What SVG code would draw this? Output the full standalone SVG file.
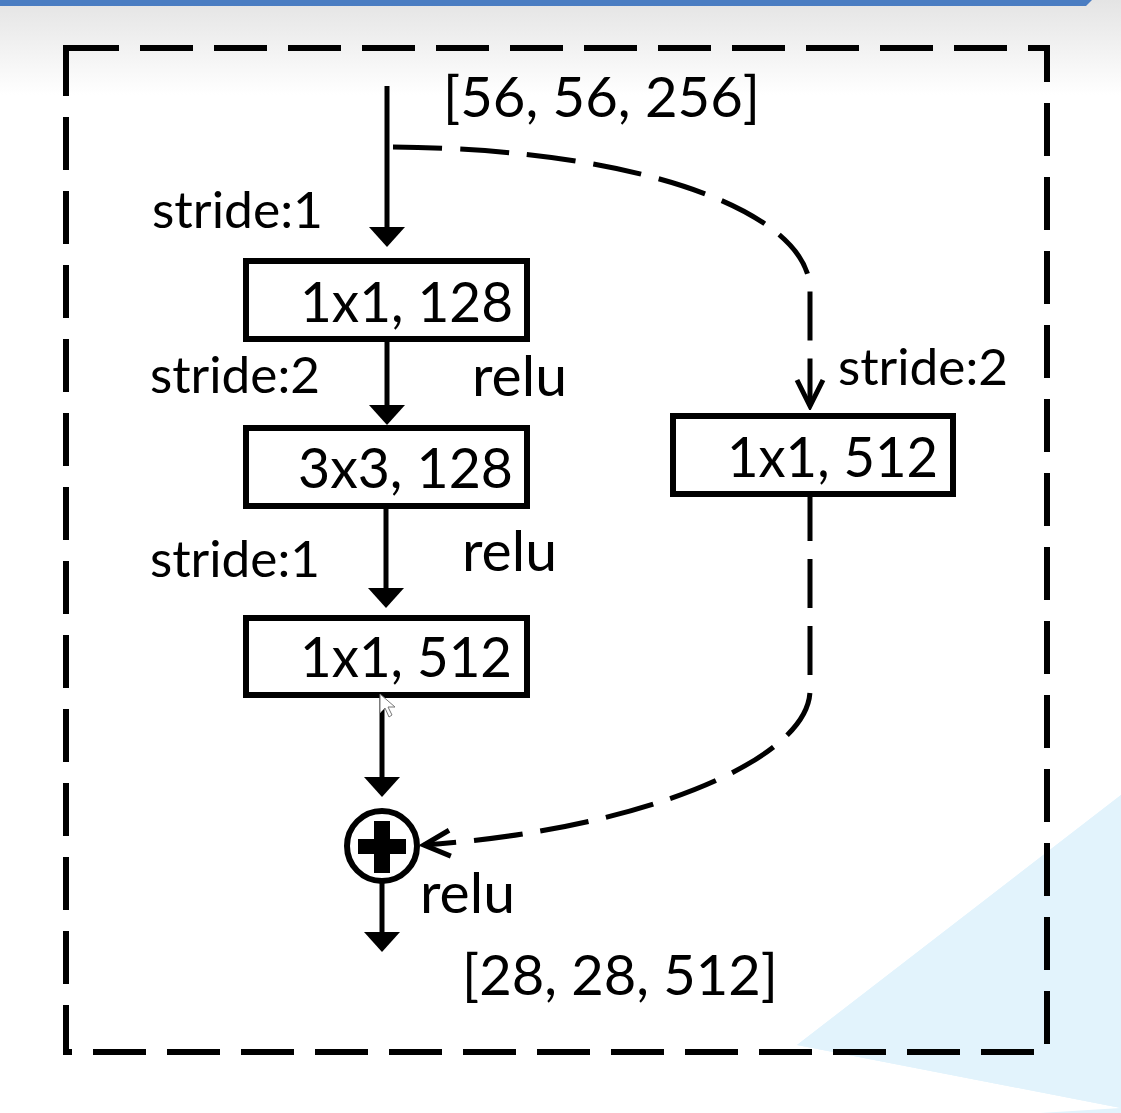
<svg xmlns="http://www.w3.org/2000/svg" width="1121" height="1113" viewBox="0 0 1121 1113">
  <defs>
    <linearGradient id="topfade" x1="0" y1="0" x2="0" y2="1">
      <stop offset="0" stop-color="#e4e4e4"/>
      <stop offset="1" stop-color="#ffffff"/>
    </linearGradient>
    <marker id="solidHead" markerUnits="userSpaceOnUse" viewBox="0 0 20 36" refX="16" refY="18" markerWidth="20" markerHeight="36" orient="auto">
      <path d="M0,0 L20,18 L0,36 Z" fill="#000"/>
    </marker>
    <marker id="openHead" markerUnits="userSpaceOnUse" viewBox="-30 -16 34 32" refX="0" refY="0" markerWidth="34" markerHeight="32" orient="auto">
      <path d="M-26,-13 L0,0 L-26,13" fill="none" stroke="#000" stroke-width="5" stroke-linejoin="miter"/>
    </marker>
    <style>
      .box { fill: #fff; stroke: #000; stroke-width: 6; }
      .lbl { font-family: Lato, "Open Sans", "Liberation Sans", sans-serif; fill: #000; }
      .big { font-size: 56px; }
      .stride { font-size: 50px; }
      .relu { font-size: 57px; }
      .solid { fill: none; stroke: #000; stroke-width: 5; marker-end: url(#solidHead); }
      .dash { fill: none; stroke: #000; stroke-width: 5; stroke-dasharray: 49 18; marker-end: url(#openHead); }
    </style>
  </defs>

  <!-- background -->
  <rect x="0" y="0" width="1121" height="1113" fill="#fff"/>
  <rect x="0" y="0" width="1121" height="95" fill="url(#topfade)"/>
  <polygon points="797,1045 1121,795 1121,1113 1040,1113 1121,1108" fill="#e2f3fc"/>
  <polygon points="797,1045 1121,1108 1121,795" fill="#e2f3fc"/>
  <polygon points="0,0 1092,0 1086,6 0,6" fill="#4a7dc2"/>

  <!-- outer dashed frame -->
  <path id="frame" d="M66,48 H1047 V1052 H66 Z" fill="none" stroke="#000" stroke-width="6" stroke-dasharray="53 21"/>

  <!-- connectors -->
  <g id="connectors">
    <path class="solid" d="M387,86 V243"/>
    <path class="solid" d="M387,342 V421"/>
    <path class="solid" d="M386,508 V604"/>
    <path class="solid" d="M382,697 V793"/>
    <path class="solid" d="M382,883 V948"/>
    <path class="dash" d="M393,147 C650,149 810,215 810,290 L810,406"/>
    <path class="dash" d="M810,492 L810,690 C810,760 640,830 424,845"/>
  </g>

  <!-- nodes -->
  <g id="node-conv1">
    <rect class="box" x="246" y="261" width="281" height="78"/>
    <text class="lbl big" x="300" y="322" textLength="213" lengthAdjust="spacingAndGlyphs">1x1, 128</text>
  </g>
  <g id="node-conv2">
    <rect class="box" x="246" y="428" width="281" height="78"/>
    <text class="lbl big" x="298" y="488" textLength="215" lengthAdjust="spacingAndGlyphs">3x3, 128</text>
  </g>
  <g id="node-conv3">
    <rect class="box" x="246" y="618" width="281" height="77"/>
    <text class="lbl big" x="300" y="677" textLength="212" lengthAdjust="spacingAndGlyphs">1x1, 512</text>
  </g>
  <g id="node-shortcut">
    <rect class="box" x="673" y="416" width="280" height="78"/>
    <text class="lbl big" x="727" y="477" textLength="211" lengthAdjust="spacingAndGlyphs">1x1, 512</text>
  </g>
  <g id="node-add">
    <circle cx="382" cy="846" r="35" fill="#fff" stroke="#000" stroke-width="6"/>
    <rect x="358" y="839" width="48" height="15" fill="#000"/>
    <rect x="374" y="821" width="16" height="52" fill="#000"/>
  </g>

  <!-- labels -->
  <g id="labels">
    <text class="lbl big" x="443" y="117" textLength="317" lengthAdjust="spacingAndGlyphs">[56, 56, 256]</text>
    <text class="lbl stride" x="152" y="228" textLength="171" lengthAdjust="spacingAndGlyphs">stride:1</text>
    <text class="lbl stride" x="150" y="393" textLength="170" lengthAdjust="spacingAndGlyphs">stride:2</text>
    <text class="lbl relu" x="472" y="396" textLength="95" lengthAdjust="spacingAndGlyphs">relu</text>
    <text class="lbl stride" x="150" y="577" textLength="170" lengthAdjust="spacingAndGlyphs">stride:1</text>
    <text class="lbl relu" x="462" y="571" textLength="95" lengthAdjust="spacingAndGlyphs">relu</text>
    <text class="lbl stride" x="838" y="385" textLength="170" lengthAdjust="spacingAndGlyphs">stride:2</text>
    <text class="lbl relu" x="420" y="913" textLength="95" lengthAdjust="spacingAndGlyphs">relu</text>
    <text class="lbl big" x="462" y="995" textLength="316" lengthAdjust="spacingAndGlyphs">[28, 28, 512]</text>
  </g>

  <!-- mouse pointer -->
  <path d="M380,694 L380,713 L385,708 L389,717 L392,715 L388,707 L395,707 Z" fill="#fff" stroke="#777" stroke-width="1"/>
</svg>
